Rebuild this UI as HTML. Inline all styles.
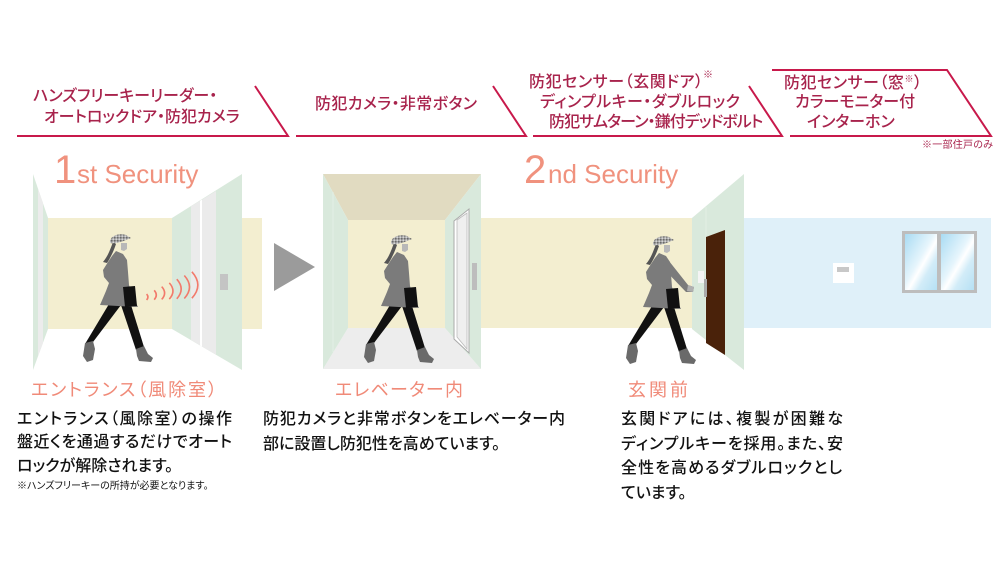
<!DOCTYPE html>
<html><head><meta charset="utf-8">
<style>
html,body{margin:0;padding:0;background:#fff;}
#c{position:relative;width:1000px;height:570px;overflow:hidden;background:#fff;}
svg{position:absolute;left:0;top:0;}
.t{position:absolute;white-space:nowrap;font-family:"Liberation Sans","Noto Sans CJK JP",sans-serif;font-feature-settings:"palt";line-height:1;}
.j{text-align:justify;text-align-last:justify;}
.h{font-size:16px;height:16px;color:#a8234c;font-weight:500;}
.l{font-size:18px;height:18px;color:#f08a78;}
.b{font-size:16px;height:16px;color:#111;font-weight:500;}
.sm{font-size:9px;vertical-align:6px;}
</style></head><body><div id="c">
<svg width="1000" height="570" viewBox="0 0 1000 570">
<defs>
<pattern id="chk" width="3" height="3" patternUnits="userSpaceOnUse"><rect width="3" height="3" fill="#a5a5a5"/><rect width="1.5" height="1.5" fill="#6a6a6a"/><rect x="1.5" y="1.5" width="1.5" height="1.5" fill="#d4d4d4"/></pattern>
<linearGradient id="glass" x1="0" y1="0" x2="1" y2="1">
<stop offset="0" stop-color="#a9dbf3"/><stop offset="0.45" stop-color="#e6f5fc"/><stop offset="0.55" stop-color="#ffffff"/><stop offset="0.7" stop-color="#d2ecf8"/><stop offset="1" stop-color="#b5e0f4"/></linearGradient>
<g id="w">
 <path d="M113,242 C110,250 108,256 103,262 L107,263 C111,257 114,250 116,244 Z" fill="#555"/>
 <polygon points="109,304 121,305 93,342 85,344" fill="#111"/>
 <polygon points="121,305 131,305 144,347 136,350" fill="#111"/>
 <polygon points="85,343 93,341 95,349 93,360 87,362 83,356" fill="#6a6a6a"/>
 <polygon points="136,349 144,346 148,354 153,358 151,362 139,361 137,356" fill="#6a6a6a"/>
 <polygon points="116,251 123,254 127,260 128,272 129,285 133,297 138,307 118,306 100,305 106,291 109,283 104,277 103,270 108,262 112,256" fill="#7b7b7b"/>
 <polygon points="121,243 127,243 127,249 124,251 121,250" fill="#b8b8b8"/>
 <path d="M110,241 C111,235 120,233 126,235 L131,238 L126,240 C121,242 115,244 110,243 Z" fill="url(#chk)"/>
 <polygon points="123,287 135,286 137,306 125,307" fill="#111"/>
</g>
</defs>

<!-- header lines -->
<g stroke="#c8194b" stroke-width="2" fill="none">
<polyline points="17,136 288,136 255,86"/>
<polyline points="296,136 526,136 493,86"/>
<polyline points="533,136 782,136 749,86"/>
<polyline points="790,136 991,136 947,70 772,70"/>
</g>

<!-- Security titles -->
<g font-family="Liberation Sans, sans-serif" fill="#f0927e">
<text x="54" y="183" font-size="40">1</text>
<text x="77" y="183" font-size="26">st Security</text>
<text x="524" y="183" font-size="40">2</text>
<text x="548" y="183" font-size="26">nd Security</text>
</g>

<!-- scene 1 -->
<rect x="48" y="218" width="214" height="111" fill="#f3eed0"/>
<polygon points="33,174 48,218 48,329 33,370" fill="#d9e9dc"/>
<polygon points="38,189 43,203 43,343 38,356" fill="#ececec"/>
<polygon points="172,218 242,174 242,370 172,329" fill="#d9e9dc"/>
<polygon points="191,206.3 200,200.8 200,345.4 191,340" fill="#ebebeb"/>
<polygon points="202,199.6 216,191 216,354.8 202,346.6" fill="#ebebeb"/>
<polygon points="200,200.8 202,199.6 202,346.6 200,345.4" fill="#ffffff"/>
<rect x="220" y="274" width="8" height="16" fill="#c4c4c4"/>
<g stroke="#f27a6b" stroke-width="1.6" fill="none">
<path d="M146.6,294 Q149.3,297 146.6,300"/>
<path d="M154.2,290.3 Q158.4,295 154.2,299.7"/>
<path d="M161.7,286.6 Q167.5,293 161.7,299.4"/>
<path d="M169.3,282.9 Q176.6,291 169.3,299.1"/>
<path d="M176.8,279.2 Q185.6,289 176.8,298.8"/>
<path d="M184.3,275.5 Q194.7,287 184.3,298.5"/>
<path d="M191.9,271.8 Q203.8,285 191.9,298.2"/>
</g>
<use href="#w"/>

<!-- play arrow -->
<polygon points="274,243 315,267 274,291" fill="#9b9b9b"/>

<!-- scene 2 -->
<rect x="481" y="218" width="211" height="110" fill="#f3eed0"/>
<polygon points="323,174 481,174 445,220 348,220" fill="#e1dbc1"/>
<rect x="348" y="220" width="97" height="108" fill="#f3eed0"/>
<polygon points="348,328 445,328 481,369 323,369" fill="#ededed"/>
<polygon points="323,174 348,220 348,328 323,369" fill="#d9e9dc"/>
<line x1="333" y1="192" x2="333" y2="352" stroke="#e4efe6" stroke-width="1"/>
<polygon points="481,174 445,220 445,328 481,369" fill="#d9e9dc"/>
<polygon points="454,221 469,209 469,353 454,339" fill="#ffffff" stroke="#aaaaaa" stroke-width="1"/>
<polygon points="457,220 467,213 467,349 457,337" fill="#efefef" stroke="#bbbbbb" stroke-width="0.8"/>
<rect x="472" y="263" width="5" height="27" fill="#bdbdbd"/>
<use href="#w" transform="translate(281,1)"/>

<!-- scene 3 -->
<polygon points="692,218 744,174 744,370 692,329" fill="#d9e9dc"/>
<line x1="706" y1="207" x2="706" y2="337" stroke="#e2eee4" stroke-width="1"/>
<polygon points="706,237 725,230 725,355 706,343" fill="#4a220a"/>
<rect x="698" y="271" width="6" height="12" fill="#f4f4f4"/>
<rect x="704" y="279" width="3" height="18" fill="#aaaaaa"/>
<rect x="744" y="218" width="247" height="110" fill="#dff0f9"/>
<rect x="833" y="263" width="21" height="20" fill="#ffffff"/>
<rect x="837" y="267" width="12" height="5" fill="#c8c8c8"/>
<rect x="902" y="231" width="75" height="62" fill="#bdbdbd"/>
<rect x="905" y="234" width="32" height="56" fill="url(#glass)"/>
<rect x="941" y="234" width="33" height="56" fill="url(#glass)"/>
<use href="#w" transform="translate(543,2)"/>
<polygon points="664,258 669,261 688,285 694,287 693,292 686,292 663,268" fill="#7b7b7b"/>
<polygon points="688,285 694,287 693,292 687,291" fill="#b0b0b0"/>
</svg>

<!-- header texts -->
<div class="t h j" style="left:33px;top:89px;width:180px;">ハンズフリーキーリーダー・</div>
<div class="t h j" style="left:44px;top:110px;width:192px;">オートロックドア・防犯カメラ</div>
<div class="t h j" style="left:315px;top:97px;width:162px;">防犯カメラ・非常ボタン</div>
<div class="t h j" style="left:529px;top:75px;width:174px;">防犯センサー（玄関ドア）</div>
<div class="t" style="left:703px;top:71px;font-size:10px;color:#a8234c;">※</div>
<div class="t h j" style="left:540px;top:95px;width:200px;">ディンプルキー・ダブルロック</div>
<div class="t h j" style="left:549px;top:115px;width:213px;letter-spacing:-1.2px;">防犯サムターン・鎌付デッドボルト</div>
<div class="t h j" style="left:784px;top:75px;width:138px;">防犯センサー（窓<span class="sm">※</span>）</div>
<div class="t h j" style="left:795px;top:95px;width:120px;">カラーモニター付</div>
<div class="t h j" style="left:807px;top:115px;width:82px;">インターホン</div>
<div class="t j" style="left:922px;top:141px;width:71px;font-size:10px;color:#a8234c;">※一部住戸のみ</div>

<!-- labels -->
<div class="t l j" style="left:31px;top:381px;width:186px;">エントランス（風除室）</div>
<div class="t l j" style="left:335px;top:381px;width:128px;">エレベーター内</div>
<div class="t l j" style="left:628px;top:381px;width:60px;">玄関前</div>

<!-- body texts -->
<div class="t b j" style="left:17px;top:412px;width:215px;">エントランス（風除室）の操作</div>
<div class="t b j" style="left:17px;top:435px;width:215px;">盤近くを通過するだけでオート</div>
<div class="t b" style="left:17px;top:459px;">ロックが解除されます。</div>
<div class="t" style="left:17px;top:482px;font-size:10px;color:#111;">※ハンズフリーキーの所持が必要となります。</div>

<div class="t b j" style="left:263px;top:412px;width:302px;">防犯カメラと非常ボタンをエレベーター内</div>
<div class="t b" style="left:263px;top:437px;">部に設置し防犯性を高めています。</div>

<div class="t b j" style="left:621px;top:412px;width:222px;">玄関ドアには、複製が困難な</div>
<div class="t b j" style="left:621px;top:437px;width:222px;">ディンプルキーを採用。また、安</div>
<div class="t b j" style="left:621px;top:461px;width:221px;">全性を高めるダブルロックとし</div>
<div class="t b" style="left:621px;top:486px;">ています。</div>
</div></body></html>
